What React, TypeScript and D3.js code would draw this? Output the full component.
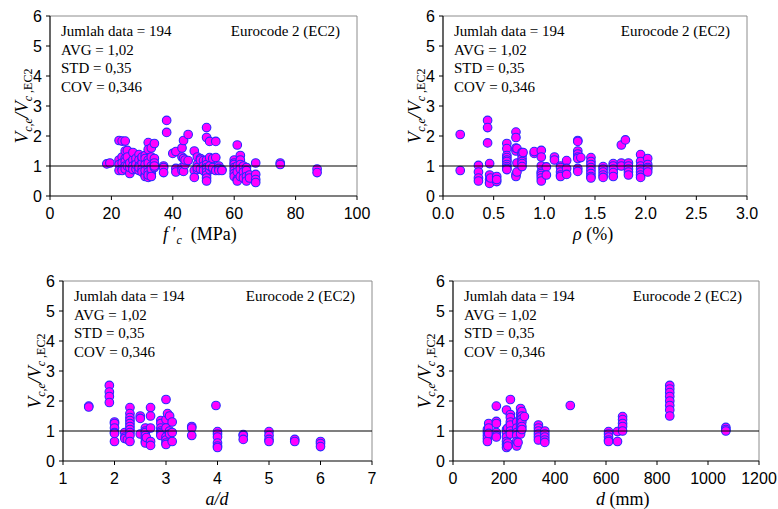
import React from "react";
import * as d3 from "d3";

// ---- data: [x value, ratios Vc,e/Vc,EC2 at that x] ----
const fcData: [number, number[]][] = [
  [18.5, [1.07]], [19.5, [1.1]],
  [22.5, [1.85, 1.2, 1.05, 0.85]], [23.5, [1.83, 1.3, 1.1, 0.9, 0.85]],
  [24.5, [1.83, 1.5, 1.25, 1.15, 1.0, 0.9]], [25.2, [1.52, 1.3, 1.0]],
  [26, [0.75, 0.95, 1.1]], [27, [1.2, 1.45, 1.0, 0.88]], [28, [1.1, 0.9, 1.25, 1.05]],
  [29, [1.38, 1.2, 1.0, 0.85, 0.95]], [30, [1.25, 1.1, 1.3, 0.9, 0.8]],
  [31, [1.35, 1.25, 1.05, 0.7, 0.65, 0.85]], [32, [1.78, 1.55, 1.2, 0.95, 0.8, 0.62, 0.7, 1.1]],
  [33, [1.0, 1.6, 0.75, 0.9, 1.3, 0.65]], [34, [1.75, 1.25, 1.1, 0.95, 1.0]],
  [37, [1.0, 0.95, 0.78]], [38, [2.52, 2.12]],
  [40, [1.42]], [41, [1.48, 0.92, 0.8]], [43, [1.6, 1.3, 0.95, 0.85]],
  [43.5, [1.85, 1.25, 0.82]], [44, [1.05, 1.2]], [45, [2.05, 1.18]],
  [47, [1.5, 0.85, 0.62]], [48, [1.3, 1.05, 0.88, 0.95]], [49, [1.25, 0.9, 1.2]],
  [50, [1.18, 1.0, 0.85]], [51, [2.28, 1.95, 1.2, 1.05, 0.95, 0.9, 0.8, 0.7, 0.6, 0.5]],
  [52, [1.82, 1.28, 0.88, 1.0]], [53, [1.25, 0.9, 0.95]], [54, [1.82, 1.28, 0.85]],
  [55, [1.0, 0.92, 0.85]], [56, [0.88, 0.85]],
  [60, [1.2, 1.1, 1.05, 0.95, 0.85, 0.75, 0.65]], [61, [1.7, 1.0, 0.8, 0.55, 0.5]],
  [62, [1.35, 1.2, 1.05, 0.9, 0.65]], [63, [1.0, 0.8, 0.6]], [64, [0.95, 0.85, 0.65, 0.5]],
  [65, [0.7, 0.6]], [67, [1.1, 0.72, 0.55, 0.45]],
  [75, [1.1, 1.05]], [87, [0.9, 0.78]],
];

const rhoData: [number, number[]][] = [
  [0.17, [2.05, 0.85]], [0.35, [1.02, 0.8, 0.6, 0.5]],
  [0.44, [2.52, 2.28, 1.77]], [0.46, [1.08, 0.7, 0.55, 0.45, 0.42]], [0.47, [0.6]],
  [0.53, [0.65, 0.48, 0.55]],
  [0.63, [1.75, 1.58, 1.35, 1.28, 1.2, 1.15, 1.05, 0.98, 0.92, 0.88]],
  [0.72, [2.13, 1.95, 1.5, 1.6, 0.72, 0.65]], [0.73, [1.58, 1.1, 0.8]],
  [0.78, [1.45, 1.37, 1.25, 1.15, 1.08, 0.98]], [0.79, [1.45]],
  [0.9, [1.42, 1.48]], [0.97, [1.52, 1.3, 1.0, 0.8, 0.75, 0.68, 0.6, 0.5]], [1.02, [0.97, 0.7]],
  [1.1, [1.3, 1.2]], [1.16, [1.0, 0.95, 0.8, 0.7, 0.65]], [1.22, [1.18, 0.92, 0.72]],
  [1.33, [1.85, 1.82, 1.5, 1.4, 1.3, 1.25, 0.92, 0.82]], [1.36, [1.28]],
  [1.46, [1.28, 1.15, 1.05, 0.95, 0.85, 0.75, 0.65, 0.6]],
  [1.58, [0.98, 0.9, 0.8, 0.7, 0.62]], [1.68, [1.08, 1.0, 0.9, 0.78, 0.65]],
  [1.76, [1.7, 1.1, 1.0]], [1.8, [1.87]], [1.83, [1.1, 1.0, 0.9, 0.8, 0.7]],
  [1.95, [1.38, 1.15, 1.0, 0.9, 0.8, 0.7, 0.62]], [2.02, [1.25, 1.05, 0.95, 0.9, 0.8]],
];

const adData: [number, number[]][] = [
  [1.5, [1.83, 1.8]], [1.9, [2.52, 2.3, 2.15, 1.95]],
  [2.0, [1.3, 1.25, 1.1, 0.95, 0.65, 0.92]], [2.2, [0.95, 0.8, 0.75]], [2.25, [0.72]],
  [2.3, [1.78, 1.58, 1.45, 1.35, 1.25, 1.15, 1.05, 0.95, 0.85, 0.65]],
  [2.5, [1.5, 1.42, 0.9]], [2.6, [1.1, 1.0, 0.95, 0.85, 0.75, 0.65, 0.6]], [2.62, [0.78]],
  [2.7, [1.78, 1.5, 1.1, 0.65, 0.52]], [2.9, [1.35, 1.25, 1.1, 1.0, 0.95, 0.9, 0.85]],
  [3.0, [2.05, 1.38, 1.1, 0.8, 0.7, 0.6, 0.55]], [3.03, [1.58]], [3.07, [1.5, 1.0, 0.9]],
  [3.12, [1.3, 0.95, 0.65]], [3.5, [1.15, 1.1, 0.85]], [3.97, [1.85]],
  [4.0, [0.98, 0.9, 0.8, 0.6, 0.5, 0.45]], [4.5, [0.88, 0.85, 0.72]],
  [5.0, [0.98, 0.85, 0.72, 0.65]], [5.5, [0.72, 0.65]], [6.0, [0.65, 0.58, 0.48]],
];

const dData: [number, number[]][] = [
  [135, [1.05, 0.95, 0.85, 0.75, 0.65]], [140, [1.25, 1.1, 0.92]],
  [170, [1.83, 1.32, 1.25, 0.95, 0.85, 0.8]],
  [210, [1.7, 1.05, 0.95, 0.8, 0.65, 0.55, 0.45]], [215, [1.1, 0.6, 0.5]],
  [225, [2.05, 1.55, 1.45, 1.3, 1.2, 1.0, 0.9]],
  [250, [1.3, 1.1, 0.95, 0.85, 0.65, 0.5]], [255, [0.62]],
  [265, [1.75, 1.58, 1.45, 1.3, 1.2, 1.1, 1.0, 0.9]], [270, [1.65, 1.5, 1.4, 1.3, 1.15, 1.05]],
  [280, [1.48]], [335, [1.2, 1.1, 1.0, 0.9, 0.8, 0.7]], [360, [1.0, 0.9, 0.8, 0.7, 0.62]],
  [460, [1.85]], [610, [0.98, 0.9, 0.8, 0.7, 0.65]], [645, [0.98, 0.65]],
  [665, [1.48, 1.38, 1.25, 1.15, 1.0]],
  [850, [2.52, 2.4, 2.28, 2.15, 2.0, 1.85, 1.7, 1.5]], [1070, [1.12, 1.05, 1.0]],
];

const fcTicks = [0, 20, 40, 60, 80, 100];
const rhoTicks = [0, 0.5, 1, 1.5, 2, 2.5, 3];
const adTicks = [1, 2, 3, 4, 5, 6, 7];
const dTicks = [0, 200, 400, 600, 800, 1000, 1200];
const yTicks = [0, 1, 2, 3, 4, 5, 6];
const statLines = ["Jumlah data = 194", "AVG = 1,02", "STD = 0,35", "COV = 0,346"];
const codeLabel = "Eurocode 2 (EC2)";

const SANS = "'Liberation Sans', Arial, sans-serif";
const SERIF = "'Liberation Serif', 'Times New Roman', serif";

type PanelProps = {
  left: number; right: number; top: number; bottom: number;
  data: [number, number[]][]; ticks: number[]; fmt: (v: number) => string;
  xlabel: React.ReactNode;
};

function Panel({ left, right, top, bottom, data, ticks, fmt, xlabel }: PanelProps) {
  const x = d3.scaleLinear().domain([ticks[0], ticks[ticks.length - 1]]).range([left, right]);
  const y = d3.scaleLinear().domain([0, 6]).range([bottom, top]);
  const pts = data.flatMap(([xv, ys]) => ys.map((yv) => [xv, yv] as [number, number]));
  const midY = (top + bottom) / 2;
  return (
    <g>
      <line x1={left} x2={right} y1={top} y2={top} stroke="#8c8c8c" strokeWidth={1} />
      <line x1={right} x2={right} y1={top} y2={bottom} stroke="#8c8c8c" strokeWidth={1} />
      <line x1={left} x2={left} y1={top} y2={bottom} stroke="#000" strokeWidth={1.2} />
      <line x1={left} x2={right} y1={bottom} y2={bottom} stroke="#000" strokeWidth={1.2} />
      {yTicks.map((t) => (
        <g key={"y" + t}>
          <line x1={left - 4} x2={left} y1={y(t)} y2={y(t)} stroke="#000" />
          <text x={left - 8} y={y(t) + 5.5} textAnchor="end" fontFamily={SANS} fontSize={16}>{t}</text>
        </g>
      ))}
      {ticks.map((t) => (
        <g key={"x" + t}>
          <line x1={x(t)} x2={x(t)} y1={bottom} y2={bottom + 4} stroke="#000" />
          <text x={x(t)} y={bottom + 23} textAnchor="middle" fontFamily={SANS} fontSize={16}>{fmt(t)}</text>
        </g>
      ))}
      {pts.map(([xv, yv], i) => (
        <circle key={i} cx={x(xv)} cy={y(yv)} r={4.3} fill="#ff00ff" stroke="#2a2aff" strokeWidth={1.1} />
      ))}
      <line x1={left} x2={right} y1={y(1)} y2={y(1)} stroke="#000" strokeWidth={1.2} />
      {statLines.map((s, i) => (
        <text key={s} x={left + 11} y={top + 20 + i * 18.5} fontFamily={SERIF} fontSize={15}>{s}</text>
      ))}
      <text x={right - 17} y={top + 20} textAnchor="end" fontFamily={SERIF} fontSize={15}>{codeLabel}</text>
      <text transform={`translate(${left - 22},${midY}) rotate(-90)`} textAnchor="middle" fontFamily={SERIF} fontSize={19} fontStyle="italic">
        <tspan>V</tspan>
        <tspan fontSize={12} dy={4}>c,e</tspan>
        <tspan dy={-4}>/V</tspan>
        <tspan fontSize={12} dy={4}>c</tspan>
        <tspan fontSize={12} fontStyle="normal"> ,EC2</tspan>
      </text>
      {xlabel}
    </g>
  );
}

export default function App() {
  return (
    <svg width={778} height={509} style={{ position: "absolute", left: 0, top: 0, background: "#fff" }}>
      <Panel left={50} right={357} top={16} bottom={196} data={fcData} ticks={fcTicks} fmt={(v) => String(v)}
        xlabel={
          <text x={163} y={240} fontFamily={SERIF} fontSize={18}>
            <tspan fontStyle="italic">f</tspan>
            <tspan> ′</tspan>
            <tspan fontStyle="italic" fontSize={12} dy={4}>c</tspan>
            <tspan dy={-4}>{"\u00a0 (MPa)"}</tspan>
          </text>
        } />
      <Panel left={443} right={747} top={16} bottom={196} data={rhoData} ticks={rhoTicks} fmt={(v) => v.toFixed(1)}
        xlabel={
          <text x={573} y={240} fontFamily={SERIF} fontSize={18}>
            <tspan fontStyle="italic">ρ</tspan>
            <tspan>{" (%)"}</tspan>
          </text>
        } />
      <Panel left={63} right={372} top={281} bottom={461} data={adData} ticks={adTicks} fmt={(v) => String(v)}
        xlabel={
          <text x={217} y={505} textAnchor="middle" fontFamily={SERIF} fontSize={18} fontStyle="italic">a/d</text>
        } />
      <Panel left={453} right={759} top={281} bottom={461} data={dData} ticks={dTicks} fmt={(v) => String(v)}
        xlabel={
          <text x={596} y={505} fontFamily={SERIF} fontSize={18}>
            <tspan fontStyle="italic">d</tspan>
            <tspan>{" (mm)"}</tspan>
          </text>
        } />
    </svg>
  );
}
